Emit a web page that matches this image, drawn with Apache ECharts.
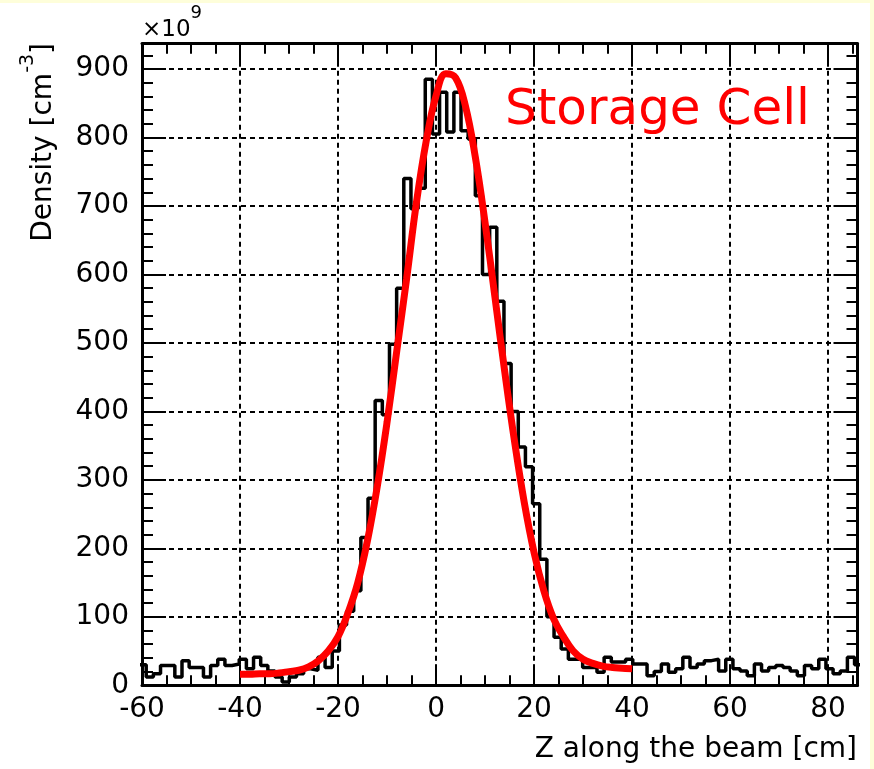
<!DOCTYPE html>
<html>
<head>
<meta charset="utf-8">
<script src="https://cdn.jsdelivr.net/npm/echarts@6/dist/echarts.min.js"></script>
<style>
  html, body { margin: 0; padding: 0; background: #FEFEDA; }
  #wrap { position: relative; width: 874px; height: 769px; background: #FEFEDA; overflow: hidden; }
  #paper { position: absolute; left: 0; top: 3px; width: 870px; height: 766px; background: #ffffff; }
  #chart { position: absolute; left: 0; top: 0; width: 874px; height: 769px; }
</style>
</head>
<body>
<div id="wrap"><div id="paper"></div><div id="chart"></div></div>
<script>
// ---------------- data ----------------
// Histogram: bin layout and counts (density x 1e9 cm^-3)
const binStart = -60.6;
const binWidth = 1.46;
const histCounts = [
  30, 12, 17, 29, 29, 12, 36, 26, 26, 12,
  29, 38, 29, 31, 38, 24, 41, 29, 21, 12,
   5, 12, 17, 24, 22, 41, 26, 50, 88, 108,
 138, 216, 273, 416, 395, 498, 580, 740, 696, 726,
 885, 805, 866, 808, 866, 810, 798, 715, 600, 669,
 561, 470, 400, 348, 319, 265, 184, 100, 70, 53,
  38, 38, 26, 26, 19, 41, 34, 34, 38, 31,
  31, 14, 20, 31, 19, 24, 41, 26, 31, 36,
  38, 21, 38, 24, 21, 14, 31, 21, 26, 29,
  26, 21, 14, 29, 24, 38, 24, 17, 21, 41,
  30
];
// Red fit curve
const fitX = [-40,-38,-36,-34,-32,-30,-28,-26,-24,-22,-20,-18,-16,-14,-12,-10,-8,-6,-4,-2,
              0,2,4,6,8,10,12,14,16,18,20,22,24,26,28,30,32,34,36,38,40];
const fitY = [16,16,17,17,18,20,22,27,36,50,71,105,149,211,290,384,489,594,705,795,
              861,893,887,846,772,676,568,459,357,267,194,138,97,71,50,38,32,28,26,25,24];
// Axes
const xTicks = [-60, -40, -20, 0, 20, 40, 60, 80];
const xMinorTicks = [-55,-50,-45,-35,-30,-25,-15,-10,-5,5,10,15,25,30,35,45,50,55,65,70,75,85];
const yTicks = [0, 100, 200, 300, 400, 500, 600, 700, 800, 900];
const yMinorTicks = [20,40,60,80,120,140,160,180,220,240,260,280,320,340,360,380,420,440,460,480,
                     520,540,560,580,620,640,660,680,720,740,760,780,820,840,860,880,920];
const xRange = [-60, 86];
const yRange = [0, 937];
const xTitle = 'Z along the beam [cm]';
const yTitleMain = 'Density [cm';
const yTitleSup = '-3';
const scaleMain = '\u00d710';
const scaleSup = '9';
const annotation = 'Storage Cell';

// ---------------- build ----------------
const FONT = "'DejaVu Sans', sans-serif";
const histData = [];
for (let k = 0; k < histCounts.length; k++) {
  histData.push([binStart + k * binWidth, histCounts[k]]);
}
histData.push([binStart + histCounts.length * binWidth, histCounts[histCounts.length - 1]]);
const fitData = fitX.map((x, i) => [x, fitY[i]]);

function xAxisDef(pos, major, showLabel) {
  return {
    type: 'value', position: pos, min: xRange[0], max: xRange[1], interval: 20,
    axisLine: { show: major, onZero: false, lineStyle: { color: '#000', width: 3 } },
    axisTick: { show: true, inside: true, length: major ? 21 : 10,
                customValues: major ? xTicks : xMinorTicks,
                lineStyle: { color: '#000', width: 2 } },
    axisLabel: { show: showLabel, customValues: xTicks, color: '#000', fontFamily: FONT,
                 fontSize: 28, margin: 10 },
    splitLine: { show: showLabel, lineStyle: { color: '#000', width: 2, type: [5, 4] } }
  };
}
function yAxisDef(pos, major, showLabel) {
  return {
    type: 'value', position: pos, min: yRange[0], max: yRange[1], interval: 100,
    axisLine: { show: major, onZero: false, lineStyle: { color: '#000', width: 3 } },
    axisTick: { show: true, inside: true, length: major ? 24 : 11,
                customValues: major ? yTicks : yMinorTicks,
                lineStyle: { color: '#000', width: 2 } },
    axisLabel: { show: showLabel, customValues: yTicks, color: '#000', fontFamily: FONT,
                 fontSize: 28, margin: 13 },
    splitLine: { show: showLabel, lineStyle: { color: '#000', width: 2, type: [5, 4] } }
  };
}

const chart = echarts.init(document.getElementById('chart'), null, { renderer: 'canvas' });
chart.setOption({
  animation: false,
  backgroundColor: 'transparent',
  grid: { left: 142, right: 16.5, top: 43.7, bottom: 83.7, containLabel: false },
  xAxis: [xAxisDef('bottom', true, true), xAxisDef('bottom', false, false),
          xAxisDef('top', true, false), xAxisDef('top', false, false)],
  yAxis: [yAxisDef('left', true, true), yAxisDef('left', false, false),
          yAxisDef('right', true, false), yAxisDef('right', false, false)],
  series: [
    { type: 'line', name: 'hist', data: histData, step: 'end', symbol: 'none',
      xAxisIndex: 0, yAxisIndex: 0, z: 3,
      lineStyle: { color: '#000', width: 3.5 } },
    { type: 'line', name: 'fit', data: fitData, smooth: 0.4, symbol: 'none',
      xAxisIndex: 0, yAxisIndex: 0, z: 4,
      lineStyle: { color: '#ff0000', width: 7, cap: 'butt' } }
  ],
  graphic: [
    { type: 'text', x: 142, y: 30, z: 10,
      style: { text: scaleMain + '{s|' + scaleSup + '}', fill: '#000', font: "23px 'DejaVu Sans', sans-serif",
               textAlign: 'left', textVerticalAlign: 'middle', lineHeight: 51,
               rich: { s: { fontSize: 18, fontFamily: FONT, lineHeight: 18, verticalAlign: 'top', fill: '#000' } } } },
    { type: 'text', x: 44, y: 43, rotation: Math.PI / 2, z: 10,
      style: { text: yTitleMain + '{s|' + yTitleSup + '}]', fill: '#000', font: "28px 'DejaVu Sans', sans-serif",
               textAlign: 'right', textVerticalAlign: 'middle', lineHeight: 50,
               rich: { s: { fontSize: 19, fontFamily: FONT, lineHeight: 20, verticalAlign: 'top', fill: '#000' } } } },
    { type: 'text', x: 857, y: 750, z: 10,
      style: { text: xTitle, fill: '#000', font: "28px 'DejaVu Sans', sans-serif",
               textAlign: 'right', textVerticalAlign: 'middle' } },
    { type: 'text', x: 505, y: 111, z: 10,
      style: { text: annotation, fill: '#ff0000', font: "50px 'DejaVu Sans', sans-serif",
               textAlign: 'left', textVerticalAlign: 'middle' } }
  ]
});
</script>
</body>
</html>
